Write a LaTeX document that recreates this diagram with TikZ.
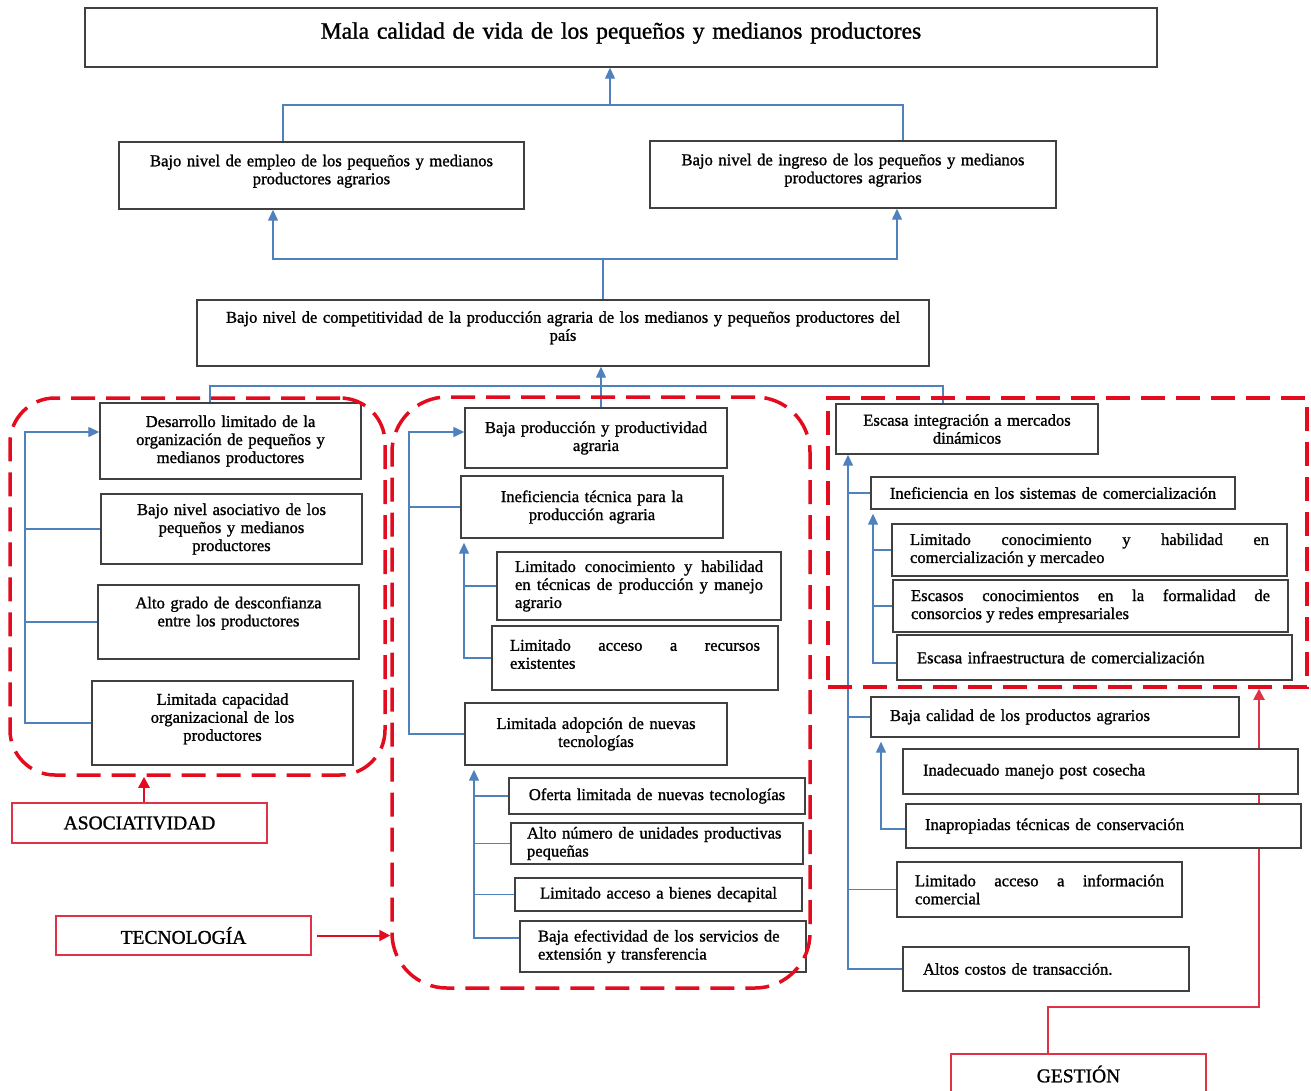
\documentclass[tikz,border=0pt]{standalone}
\usepackage{fontspec}
\setmainfont{Liberation Serif}[FakeBold=1.2]
\usetikzlibrary{arrows.meta,backgrounds}
\definecolor{azul}{RGB}{79,129,189}
\definecolor{rojo}{RGB}{226,12,30}
\definecolor{rojoclaro}{RGB}{222,50,70}
\newcommand\cuerpo{\fontsize{16.6}{18}\selectfont}
\newcommand\titulo{\fontsize{23.5}{26}\selectfont}
\newcommand\etiqueta{\fontsize{19.5}{22}\selectfont}
\newcommand\hueco[1]{\rule[-#1]{0pt}{0pt}}
\hbadness=10000
\tikzset{
  caja/.style={draw=black!75, line width=1.4pt, fill=white, inner ysep=2pt, font=\cuerpo},
  centro/.style={caja, align=center, inner xsep=8pt},
  justo/.style={caja, align=justify, inner xsep=18pt},
  izquierda/.style={caja, align=left, inner xsep=19pt},
  eje/.style={draw=rojoclaro, line width=1.2pt, fill=white, font=\etiqueta, align=center},
  grupo/.style={draw=rojo, line width=3.5pt, dash pattern=on 24pt off 11pt},
  flujo/.style={draw=azul, line width=1.3pt},
  flecha/.style={flujo, -{Triangle[length=11pt,width=10pt]}},
  subida/.style={flecha, shorten >=4pt},
  alerta/.style={draw=rojo, line width=2.5pt, -{Triangle[length=11pt,width=11pt]}},
}
\begin{document}
\begin{tikzpicture}[x=1pt, y=-1pt]
  \useasboundingbox (0,0) rectangle (1311,1090);

  \node[centro, font=\titulo, minimum width=1072pt, minimum height=59pt, text width=1056pt] (vida) at (621,37.5) {Mala calidad de vida de los pequeños y medianos productores\hueco{14pt}};
  \node[centro, minimum width=405pt, minimum height=67pt, text width=389pt] (empleo) at (321.5,175.5) {Bajo nivel de empleo de los pequeños y medianos\\productores agrarios\hueco{12pt}};
  \node[centro, minimum width=406pt, minimum height=67pt, text width=390pt] (ingreso) at (853,174.5) {Bajo nivel de ingreso de los pequeños y medianos\\productores agrarios\hueco{12pt}};
  \node[centro, minimum width=732pt, minimum height=66pt, text width=716pt] (competitividad) at (563,333) {Bajo nivel de competitividad de la producción agraria de los medianos y pequeños productores del\\país\hueco{14pt}};

  \node[centro, minimum width=261pt, minimum height=76pt, text width=245pt] (desarrollo) at (230.5,441) {Desarrollo limitado de la\\organización de pequeños y\\medianos productores};
  \node[centro, minimum width=261pt, minimum height=70pt, text width=245pt] (asociativo) at (231.5,529) {Bajo nivel asociativo de los\\pequeños y medianos\\productores};
  \node[centro, minimum width=261pt, minimum height=74pt, text width=245pt] (desconfianza) at (228.5,622) {Alto grado de desconfianza\\entre los productores\hueco{21pt}};
  \node[centro, minimum width=261pt, minimum height=84pt, text width=245pt] (capacidad) at (222.5,723) {Limitada capacidad\\organizacional de los\\productores\hueco{12pt}};

  \node[centro, minimum width=262pt, minimum height=60pt, text width=246pt] (bajaprod) at (596,438) {Baja producción y productividad\\agraria};
  \node[centro, minimum width=262pt, minimum height=62pt, text width=246pt] (inefTec) at (592,507) {Ineficiencia técnica para la\\producción agraria};
  \node[justo, minimum width=284pt, minimum height=68pt, text width=248pt] (conocTec) at (639,586) {Limitado conocimiento y habilidad\linebreak en técnicas de producción y manejo\linebreak agrario};
  \node[justo, minimum width=286pt, minimum height=64pt, text width=250pt] (recursos) at (635,658) {Limitado acceso a recursos\linebreak existentes\hueco{8pt}};
  \node[centro, minimum width=262pt, minimum height=62pt, text width=246pt] (adopcion) at (596,734) {Limitada adopción de nuevas\\tecnologías};
  \node[centro, minimum width=296pt, minimum height=36pt, text width=280pt] (oferta) at (657,796) {Oferta limitada de nuevas tecnologías};
  \node[izquierda, inner xsep=16pt, minimum width=292pt, minimum height=41pt, text width=260pt] (unidades) at (657,843.5) {Alto número de unidades productivas\\pequeñas};
  \node[centro, minimum width=287pt, minimum height=33pt, text width=271pt] (bienes) at (658.5,894.5) {Limitado acceso a bienes decapital};
  \node[izquierda, inner xsep=18pt, minimum width=286pt, minimum height=51pt, text width=250pt] (efectividad) at (663,946.5) {Baja efectividad de los servicios de\\extensión y transferencia};

  \node[centro, minimum width=262pt, minimum height=50pt, text width=246pt] (integracion) at (967,429) {Escasa integración a mercados\\dinámicos};
  \node[centro, minimum width=364pt, minimum height=32pt, text width=348pt] (inefCom) at (1053,493) {Ineficiencia en los sistemas de comercialización};
  \node[justo, minimum width=395pt, minimum height=52pt, text width=359pt] (conocCom) at (1089.5,550) {Limitado conocimiento y habilidad en\linebreak comercialización y mercadeo};
  \node[justo, minimum width=395pt, minimum height=52pt, text width=359pt] (consorcios) at (1090.5,606) {Escasos conocimientos en la formalidad de\linebreak consorcios y redes empresariales};
  \node[izquierda, inner xsep=20pt, minimum width=395pt, minimum height=45pt, text width=355pt] (infraestructura) at (1094.5,657.5) {Escasa infraestructura de comercialización};
  \node[izquierda, minimum width=368pt, minimum height=40pt, text width=330pt] (calidad) at (1055,717) {Baja calidad de los productos agrarios};
  \node[izquierda, inner xsep=20pt, minimum width=395pt, minimum height=45pt, text width=355pt] (postcosecha) at (1100.5,771.5) {Inadecuado manejo post cosecha};
  \node[izquierda, minimum width=395pt, minimum height=44pt, text width=357pt] (conservacion) at (1103.5,826) {Inapropiadas técnicas de conservación};
  \node[justo, minimum width=285pt, minimum height=55pt, text width=249pt] (informacion) at (1039.5,889.5) {Limitado acceso a información\linebreak comercial};
  \node[izquierda, inner xsep=20pt, minimum width=286pt, minimum height=44pt, text width=246pt] (costos) at (1046,969) {Altos costos de transacción.};

  \node[eje, minimum width=255pt, minimum height=40pt] (asociatividad) at (139.5,823) {ASOCIATIVIDAD};
  \node[eje, minimum width=255pt, minimum height=39pt] (tecnologia) at (183.5,935.5) {TECNOLOGÍA};
  \node[eje, minimum width=255pt, minimum height=40pt] (gestion) at (1078.5,1074) {GESTIÓN};

  \coordinate (unionA) at (610,105);
  \coordinate (unionB) at (603,259);
  \coordinate (unionC) at (601,386);
  \draw[flujo] ([xshift=-38.5pt]empleo.north) |- (unionA) -| ([xshift=50pt]ingreso.north);
  \draw[flecha] (unionA) -- (unionA |- vida.south);
  \draw[flujo] (competitividad.north -| unionB) -- (unionB);
  \draw[flecha] (unionB) -| ([xshift=-48.5pt]empleo.south);
  \draw[flecha] (unionB) -| ([xshift=44pt]ingreso.south);
  \draw[flecha] (unionC) -- (unionC |- competitividad.south);
  \draw[flujo] ([xshift=-20.5pt]desarrollo.north) |- (unionC) -| ([xshift=-24pt]integracion.north);
  \draw[flujo] (unionC) -- (unionC |- bajaprod.north);

  \coordinate (troncoA) at (25,723);
  \draw[flecha] (capacidad.west) -- (troncoA) |- ([yshift=9pt]desarrollo.west);
  \draw[flujo] (asociativo.west) -- (asociativo.west -| troncoA);
  \draw[flujo] (desconfianza.west) -- (desconfianza.west -| troncoA);

  \coordinate (troncoT) at (409,734);
  \coordinate (troncoT1) at (464,658);
  \coordinate (troncoT2) at (474,938);
  \draw[flecha] (adopcion.west) -- (troncoT) |- ([yshift=6pt]bajaprod.west);
  \draw[flujo] (inefTec.west) -- (inefTec.west -| troncoT);
  \draw[subida] (recursos.west) -- (troncoT1) -- (troncoT1 |- inefTec.south);
  \draw[flujo] (conocTec.west) -- (conocTec.west -| troncoT1);
  \draw[subida] (troncoT2 -| efectividad.west) -- (troncoT2) -- (troncoT2 |- adopcion.south);
  \draw[flujo] (oferta.west) -- (oferta.west -| troncoT2);
  \draw[flujo] (unidades.west) -- (unidades.west -| troncoT2);
  \draw[flujo] (bienes.west) -- (bienes.west -| troncoT2);

  \coordinate (troncoG) at (848,969);
  \coordinate (troncoG1) at (873,663);
  \coordinate (troncoG2) at (881,829);
  \draw[flecha] (costos.west) -- (troncoG) -- (troncoG |- integracion.south);
  \draw[flujo] (inefCom.west) -- (inefCom.west -| troncoG);
  \draw[flujo] (calidad.west) -- (calidad.west -| troncoG);
  \draw[flujo] (informacion.west) -- (informacion.west -| troncoG);
  \draw[subida] (troncoG1 -| infraestructura.west) -- (troncoG1) -- (troncoG1 |- inefCom.south);
  \draw[flujo] (conocCom.west) -- (conocCom.west -| troncoG1);
  \draw[flujo] (consorcios.west) -- (consorcios.west -| troncoG1);
  \draw[subida] (troncoG2 -| conservacion.west) -- (troncoG2) -- (troncoG2 |- calidad.south);

  \node[grupo, rounded corners=45pt, minimum width=375pt, minimum height=377pt] (grupoA) at (197.5,586.5) {};
  \node[grupo, rounded corners=55pt, minimum width=418pt, minimum height=591pt] (grupoT) at (601,692.5) {};
  \node[grupo, minimum width=479pt, minimum height=289pt] (grupoG) at (1067.5,542.5) {};

  \draw[alerta] ([xshift=4.5pt]asociatividad.north) -- ([xshift=4.5pt]asociatividad.north |- grupoA.south);
  \draw[alerta, line width=2pt, shorten <=5pt] (tecnologia.east) -- (tecnologia.east -| grupoT.west);
  \coordinate (codoG) at (1259,1007);
  \begin{pgfonlayer}{background}
    \draw[alerta, draw=rojoclaro, line width=2pt] ([xshift=-30.5pt]gestion.north) |- (codoG) -- (codoG |- grupoG.south);
  \end{pgfonlayer}
\end{tikzpicture}
\end{document}
